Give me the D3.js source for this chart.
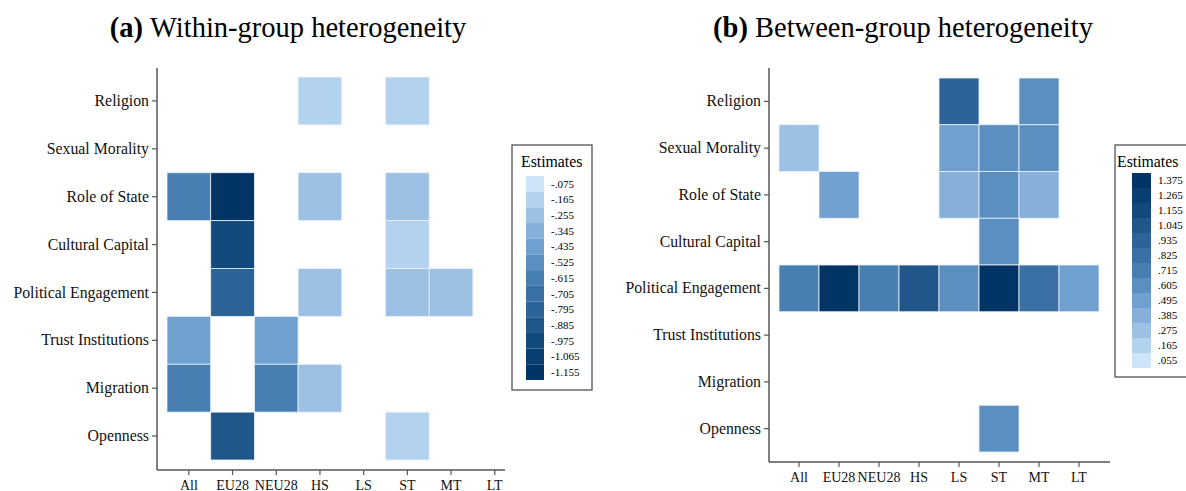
<!DOCTYPE html>
<html>
<head>
<meta charset="utf-8">
<script src="https://cdn.jsdelivr.net/npm/d3@7"></script>
<style>
body { margin: 0; background: #fff; }
svg { display: block; font-family: "Liberation Serif", "Times New Roman", serif; }
</style>
</head>
<body>
<svg width="1186" height="491"></svg>
<script>
var svg = d3.select('svg');

// categories
var groups = ['All', 'EU28', 'NEU28', 'HS', 'LS', 'ST', 'MT', 'LT'];
var dims = ['Religion', 'Sexual Morality', 'Role of State', 'Cultural Capital',
            'Political Engagement', 'Trust Institutions', 'Migration', 'Openness'];

// legend labels (bin midpoints)
var withinTicks = ['-.075', '-.165', '-.255', '-.345', '-.435', '-.525', '-.615',
                   '-.705', '-.795', '-.885', '-.975', '-1.065', '-1.155'];
var betweenTicks = ['1.375', '1.265', '1.155', '1.045', '.935', '.825', '.715',
                    '.605', '.495', '.385', '.275', '.165', '.055'];

// light -> dark
var blues = ['#cde4f9', '#b2d2f0', '#9cc1e5', '#86b0da', '#6fa0cf', '#5b8fc0', '#477fb3',
             '#3a70a6', '#2c6398', '#20568a', '#134a7e', '#0a3f73', '#023465'];

// within-group estimates [dimension, group, value]
var withinData = [
    ['Religion', 'HS', -0.165], ['Religion', 'ST', -0.165],
    ['Role of State', 'All', -0.615], ['Role of State', 'EU28', -1.155],
    ['Role of State', 'HS', -0.255], ['Role of State', 'ST', -0.255],
    ['Cultural Capital', 'EU28', -0.975], ['Cultural Capital', 'ST', -0.165],
    ['Political Engagement', 'EU28', -0.795], ['Political Engagement', 'HS', -0.255],
    ['Political Engagement', 'ST', -0.255], ['Political Engagement', 'MT', -0.255],
    ['Trust Institutions', 'All', -0.435], ['Trust Institutions', 'NEU28', -0.435],
    ['Migration', 'All', -0.615], ['Migration', 'NEU28', -0.615], ['Migration', 'HS', -0.255],
    ['Openness', 'EU28', -0.885], ['Openness', 'ST', -0.165]
];

// between-group estimates
var betweenData = [
    ['Religion', 'LS', 0.935], ['Religion', 'MT', 0.605],
    ['Sexual Morality', 'All', 0.275], ['Sexual Morality', 'LS', 0.495],
    ['Sexual Morality', 'ST', 0.605], ['Sexual Morality', 'MT', 0.605],
    ['Role of State', 'EU28', 0.495], ['Role of State', 'LS', 0.385],
    ['Role of State', 'ST', 0.605], ['Role of State', 'MT', 0.385],
    ['Cultural Capital', 'ST', 0.605],
    ['Political Engagement', 'All', 0.715], ['Political Engagement', 'EU28', 1.375],
    ['Political Engagement', 'NEU28', 0.715], ['Political Engagement', 'HS', 1.045],
    ['Political Engagement', 'LS', 0.605], ['Political Engagement', 'ST', 1.375],
    ['Political Engagement', 'MT', 0.825], ['Political Engagement', 'LT', 0.495],
    ['Openness', 'ST', 0.605]
];

function drawPanel(opt) {
    var g = svg.append('g');

    var x = d3.scaleBand().domain(groups).range(opt.xRange).padding(0);
    var y = d3.scaleBand().domain(dims).range(opt.yRange).padding(0);
    var color = d3.scaleQuantize().domain(opt.domain).range(opt.colors);

    g.selectAll('.cell')
        .data(opt.data)
        .enter()
        .append('rect')
        .attr('class', 'cell')
        .attr('x', function(d){ return x(d[1]); })
        .attr('y', function(d){ return y(d[0]); })
        .attr('width', x.bandwidth())
        .attr('height', y.bandwidth())
        .attr('fill', function(d){ return color(d[2]); })
        .attr('stroke', '#eaf2fb')
        .attr('stroke-width', 0.8);

    var yAxis = g.append('g')
        .attr('transform', 'translate(' + opt.axisX + ',0)')
        .call(d3.axisLeft(y).tickSize(5).tickSizeOuter(0));
    var xAxis = g.append('g')
        .attr('transform', 'translate(0,' + opt.axisY + ')')
        .call(d3.axisBottom(x).tickSize(5).tickSizeOuter(0));

    [yAxis, xAxis].forEach(function(a){
        a.select('.domain').remove();
        a.selectAll('line').attr('stroke', '#555').attr('stroke-width', 1.2);
        a.selectAll('text').attr('fill', '#111')
            .attr('font-family', '"Liberation Serif", serif');
    });
    yAxis.selectAll('text').attr('x', -8).attr('font-size', 15.8);
    xAxis.selectAll('text').attr('y', 10).attr('font-size', 14);

    g.append('line')
        .attr('x1', opt.axisX).attr('x2', opt.axisX)
        .attr('y1', opt.axisTop).attr('y2', opt.axisY)
        .attr('stroke', '#555').attr('stroke-width', 1.5);
    g.append('line')
        .attr('x1', opt.axisX).attr('x2', opt.axisRight)
        .attr('y1', opt.axisY).attr('y2', opt.axisY)
        .attr('stroke', '#555').attr('stroke-width', 1.5);

    // legend
    var lg = g.append('g');
    lg.append('rect')
        .attr('x', opt.legend.x).attr('y', opt.legend.y)
        .attr('width', opt.legend.w).attr('height', opt.legend.h)
        .attr('fill', '#fff').attr('stroke', '#444').attr('stroke-width', 1.2);
    lg.append('text')
        .attr('x', opt.legend.x + opt.legend.titleDx)
        .attr('y', opt.legend.y + 22)
        .attr('font-size', 15.8)
        .text('Estimates');

    var ly = d3.scaleBand().domain(d3.range(opt.ticks.length))
        .range([opt.legend.sy0, opt.legend.sy1]);
    lg.selectAll('.sw')
        .data(opt.ticks)
        .enter()
        .append('rect')
        .attr('x', opt.legend.sx)
        .attr('y', function(d, i){ return ly(i); })
        .attr('width', opt.legend.sw)
        .attr('height', ly.bandwidth())
        .attr('fill', function(d){ return color(+d); });
    lg.selectAll('.lab')
        .data(opt.ticks)
        .enter()
        .append('text')
        .attr('x', opt.legend.sx + opt.legend.sw + 7)
        .attr('y', function(d, i){ return ly(i) + ly.bandwidth() / 2; })
        .attr('dy', '0.35em')
        .attr('font-size', 11)
        .text(function(d){ return d; });

    var t = svg.append('text')
        .attr('x', opt.titleX)
        .attr('y', 37)
        .attr('text-anchor', 'middle')
        .attr('font-size', 28.5)
        .attr('font-family', '"Liberation Serif", serif');
    t.append('tspan').attr('font-weight', 'bold').text(opt.label + ' ');
    t.append('tspan').text(opt.title);
}

drawPanel({
    data: withinData,
    domain: [-1.2, -0.03],
    colors: blues.slice().reverse(),
    ticks: withinTicks,
    xRange: [167, 167 + 8 * 43.7],
    yRange: [77, 460],
    axisX: 157, axisY: 470, axisTop: 68, axisRight: 505,
    legend: {x: 512, y: 145, w: 80, h: 245, titleDx: 9, sx: 526, sw: 18, sy0: 176, sy1: 380},
    titleX: 288, label: '(a)', title: 'Within-group heterogeneity'
});

drawPanel({
    data: betweenData,
    domain: [0, 1.43],
    colors: blues,
    ticks: betweenTicks,
    xRange: [779, 1099],
    yRange: [78, 452],
    axisX: 769, axisY: 462, axisTop: 68, axisRight: 1110,
    legend: {x: 1115, y: 145, w: 85, h: 232, titleDx: 2, sx: 1132, sw: 19, sy0: 173, sy1: 368},
    titleX: 903, label: '(b)', title: 'Between-group heterogeneity'
});
</script>
</body>
</html>
